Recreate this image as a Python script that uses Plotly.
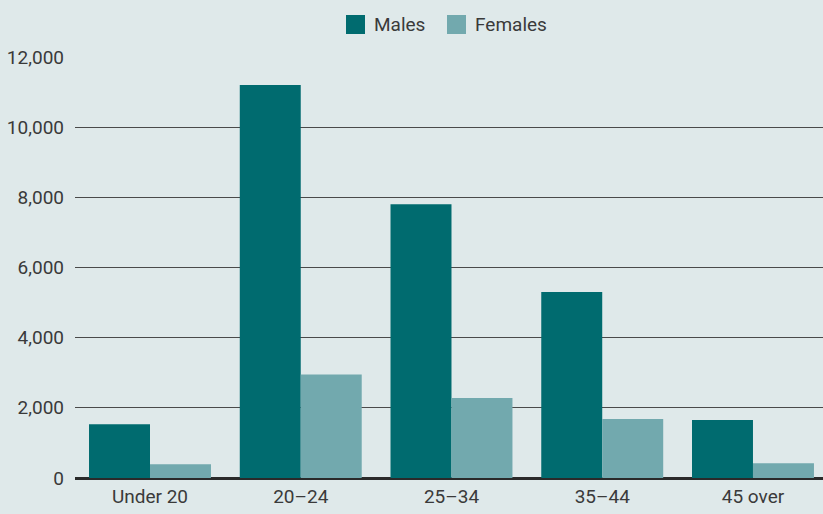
import plotly.graph_objects as go

categories = ["Under 20", "20–24", "25–34", "35–44", "45 over"]
males = [1530, 11200, 7800, 5300, 1650]
females = [390, 2950, 2280, 1680, 420]
y_ticks = [0, 2000, 4000, 6000, 8000, 10000, 12000]
y_tick_labels = ["0", "2,000", "4,000", "6,000", "8,000", "10,000", "12,000"]
series_names = ["Males", "Females"]
series_colors = ["#006b6f", "#72a9ae"]

BG = "#dfe9ea"
FONT = "Roboto, Liberation Sans, sans-serif"
TXT = "#3a3a3a"

W, H = 823, 514
L, R, T, B = 75, 0, 57, 36
pw, ph = W - L - R, H - T - B

def px_x(x):
    return (x - L) / pw

def px_y(y):
    return (H - B - y) / ph

fig = go.Figure()
for name, vals, col in zip(series_names, [males, females], series_colors):
    fig.add_trace(go.Bar(name=name, x=categories, y=vals,
                         marker=dict(color=col, line=dict(width=0))))

# legend drawn as layout shapes + text
legend_items = [(346, 372), (447, 473)]
shapes, annots = [], []
for (sx, tx), name, col in zip(legend_items, series_names, series_colors):
    shapes.append(dict(type="rect", xref="paper", yref="paper",
                       x0=px_x(sx), x1=px_x(sx + 19), y0=px_y(34), y1=px_y(15),
                       fillcolor=col, line=dict(width=0)))
    annots.append(dict(text=name, xref="paper", yref="paper", x=px_x(tx), y=px_y(24.5),
                       xanchor="left", yanchor="middle", showarrow=False,
                       font=dict(size=19, color=TXT, family=FONT)))

fig.update_layout(
    width=W, height=H,
    paper_bgcolor=BG, plot_bgcolor=BG,
    margin=dict(l=L, r=R, t=T, b=B, pad=0),
    barmode="group", bargap=0.191, bargroupgap=0,
    font=dict(family=FONT, size=19, color=TXT),
    showlegend=False,
    shapes=shapes, annotations=annots,
    xaxis=dict(range=[-0.4975, 4.4645], showgrid=False, showline=False, ticks="",
               ticklabelstandoff=5, tickfont=dict(size=19, color=TXT)),
    yaxis=dict(range=[0, 12000], tickvals=y_ticks, ticktext=y_tick_labels,
               showgrid=True, gridcolor="#4a4a4a", gridwidth=1.3,
               zeroline=True, zerolinecolor="#2a2a2a", zerolinewidth=2.5,
               showline=False, ticks="", ticklabelstandoff=10,
               tickfont=dict(size=19, color=TXT)),
)
fig.write_html("out.html", config={"displayModeBar": False},
               post_script="document.body.style.margin='0';document.body.style.background='%s';" % BG)
